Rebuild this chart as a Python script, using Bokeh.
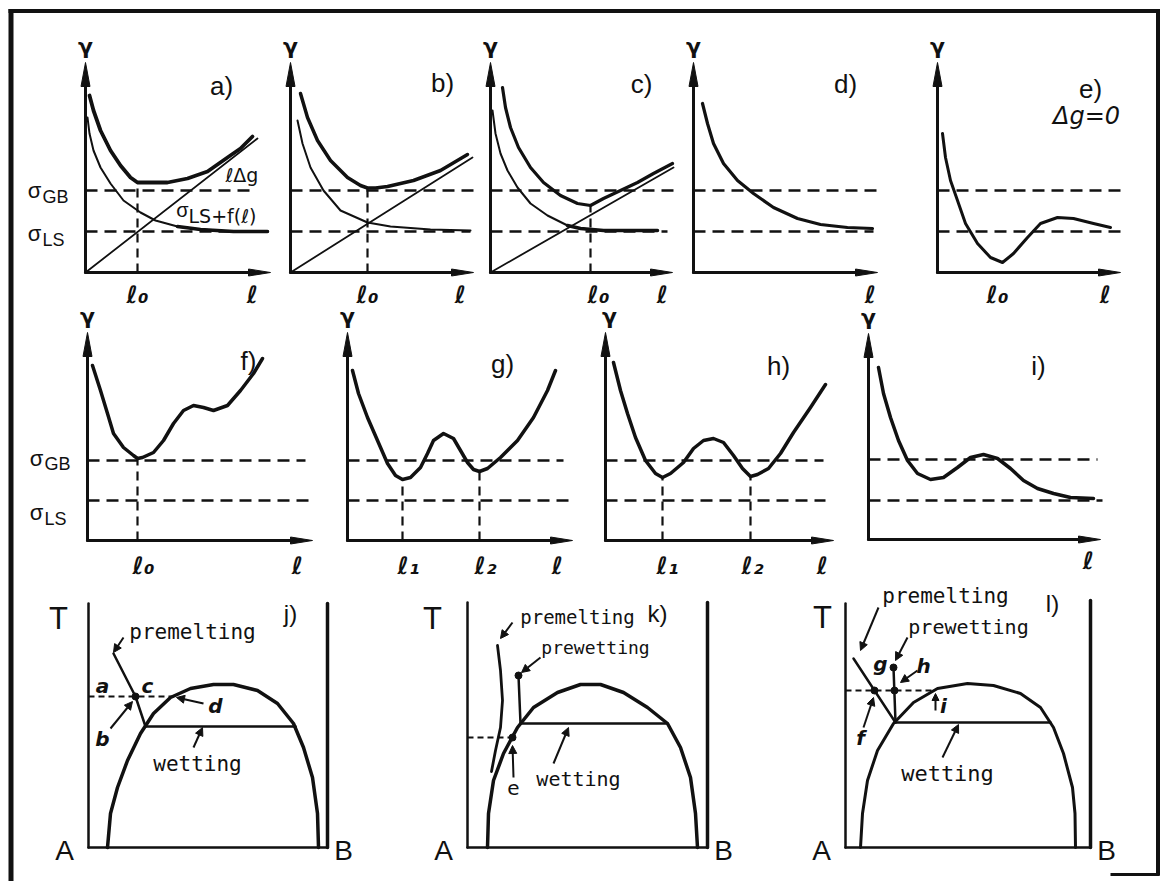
import numpy as np
from bokeh.plotting import figure
from bokeh.models import Range1d, Arrow, NormalHead
from bokeh.core.properties import value
from bokeh.embed import file_html
from bokeh.resources import INLINE

# ===================== DATA =====================
# reference surface-energy levels (gamma units), top and middle rows
SIG_GB_1, SIG_LS_1 = 8.2, 4.1
SIG_GB_2, SIG_LS_2 = 8.0, 4.0

# a)  upper curve (total), lower curve sigma_LS + f(l), straight line l*dg
A_UP_L = [0.4, 0.8, 1.5, 2.5, 3.5, 4.5, 5.2, 6.2, 8.2, 10.2, 12.2, 14.2, 15.5, 16.7]
A_UP_G = [17.7, 16.2, 14.2, 12.2, 10.7, 9.5, 9.0, 9.0, 9.0, 9.4, 10.1, 11.5, 12.4, 13.6]
A_LO_L = [0.2, 0.4, 0.8, 1.5, 2.5, 3.8, 5.5, 7.0, 9.2, 11.5, 14.8, 18.2]
A_LO_G = [15.5, 13.9, 12.2, 10.5, 8.9, 7.2, 6.0, 5.2, 4.6, 4.3, 4.1, 4.1]
A_LINE_L, A_LINE_G = [0.0, 17.2], [0.0, 13.4]
A_L0 = 5.2

# b)
B_UP_L = [1.0, 1.7, 2.7, 4.0, 5.7, 7.0, 7.7, 8.5, 9.7, 12.3, 15.0, 17.7]
B_UP_G = [17.9, 15.5, 13.2, 11.2, 9.5, 8.7, 8.45, 8.45, 8.6, 9.2, 10.2, 11.8]
B_LO_L = [0.7, 1.2, 2.0, 3.3, 5.0, 7.7, 10.0, 14.0, 18.0]
B_LO_G = [15.2, 12.9, 10.5, 8.2, 6.2, 5.0, 4.6, 4.3, 4.2]
B_LINE_L, B_LINE_G = [0.0, 18.2], [0.0, 11.5]
B_L0 = 7.7

# c)
C_UP_L = [1.2, 1.5, 2.0, 2.8, 4.0, 5.3, 7.0, 8.7, 10.0, 11.3, 13.0, 14.7, 16.3, 18.2]
C_UP_G = [18.5, 16.5, 14.5, 12.5, 10.5, 9.0, 7.7, 6.9, 6.7, 7.4, 8.2, 9.0, 9.9, 10.9]
C_LO_L = [0.2, 0.5, 1.0, 1.7, 2.7, 4.0, 5.7, 7.7, 9.0, 11.3, 16.7]
C_LO_G = [16.2, 13.9, 11.9, 10.2, 8.5, 6.9, 5.7, 4.7, 4.4, 4.2, 4.2]
C_LINE_L, C_LINE_G = [0.0, 18.3], [0.0, 10.5]
C_L0 = 10.0

# d)
D_L = [0.9, 1.4, 2.0, 3.0, 4.4, 6.0, 8.0, 10.4, 12.7, 15.4, 17.9]
D_G = [16.9, 14.9, 12.9, 10.9, 9.2, 7.9, 6.5, 5.4, 4.8, 4.5, 4.4]

# e)  (delta g = 0)
E_L = [0.5, 0.8, 1.3, 2.0, 2.8, 4.0, 5.3, 6.5, 7.6, 9.0, 10.3, 12.0, 13.6, 15.6, 17.3]
E_G = [13.9, 11.5, 9.2, 7.2, 4.9, 2.9, 1.5, 1.0, 1.9, 3.5, 4.9, 5.5, 5.4, 4.9, 4.5]

# f)
F_L = [0.5, 1.3, 2.0, 2.6, 3.6, 4.6, 5.0, 5.5, 6.6, 7.6, 8.6, 9.6, 10.6, 11.6, 12.6, 14.0, 15.3, 16.6, 17.5]
F_G = [17.5, 15.0, 12.7, 10.7, 9.3, 8.5, 8.2, 8.3, 8.8, 10.0, 11.7, 13.0, 13.5, 13.3, 13.0, 13.5, 15.0, 16.7, 18.2]
F_L0 = 5.0

# g)
G_L = [0.5, 1.1, 2.0, 3.0, 4.0, 4.8, 5.5, 6.3, 7.3, 8.0, 8.6, 9.6, 10.6, 11.3, 12.0, 12.6, 13.2, 14.0, 15.3, 17.0, 18.6, 20.0, 20.8]
G_G = [17.0, 14.7, 12.3, 10.0, 7.7, 6.5, 6.1, 6.3, 7.3, 8.7, 10.0, 10.7, 10.2, 9.0, 7.8, 7.1, 6.9, 7.2, 8.3, 10.0, 12.3, 15.0, 17.0]
G_L1, G_L2 = 5.5, 13.2

# h)
H_L = [0.8, 1.5, 2.2, 3.0, 4.0, 5.0, 5.7, 6.5, 7.8, 8.8, 9.8, 10.8, 11.8, 12.8, 13.7, 14.5, 15.2, 16.3, 17.5, 18.8, 20.5, 22.0]
H_G = [17.8, 15.0, 12.7, 10.3, 8.0, 6.7, 6.3, 6.7, 7.8, 9.2, 10.0, 10.2, 9.8, 8.5, 7.2, 6.4, 6.6, 7.2, 8.7, 10.8, 13.3, 15.6]
H_L1, H_L2 = 5.7, 14.5

# i)
I_L = [1.0, 1.5, 2.2, 3.0, 3.9, 4.9, 6.2, 7.5, 8.9, 10.2, 11.5, 12.9, 14.2, 15.5, 16.9, 18.5, 20.2, 22.5]
I_G = [17.2, 14.6, 12.2, 9.9, 7.9, 6.6, 6.0, 6.2, 7.2, 8.2, 8.5, 8.1, 7.1, 5.9, 5.1, 4.6, 4.2, 4.1]

# j)  phase diagram: miscibility dome, three-phase line, premelting line
J_DOME_X = [1.9, 2.2, 2.9, 3.9, 5.2, 6.5, 8.2, 10.2, 12.5, 14.5, 16.9, 18.9, 20.5, 21.5, 22.4, 22.9, 23.0]
J_DOME_T = [0.0, 3.4, 6.0, 8.7, 11.4, 13.4, 15.0, 15.9, 16.3, 16.3, 15.7, 14.4, 12.4, 10.0, 7.0, 3.4, 0.0]
J_THREE_X, J_THREE_T = [5.7, 20.7], 12.1
J_DASH_X, J_DASH_T = [0.0, 8.5], 15.1
J_PREMELT_X, J_PREMELT_T = [2.5, 4.7, 5.7], [19.4, 15.1, 12.1]
J_DOT_X, J_DOT_T = [4.7], [15.1]

# k)
K_DOME_X = [2.0, 2.1, 2.6, 3.6, 5.0, 6.6, 9.0, 11.3, 13.3, 15.6, 18.0, 20.0, 21.3, 22.3, 22.8, 23.0]
K_DOME_T = [0.0, 3.4, 6.7, 9.4, 12.0, 14.0, 15.5, 16.3, 16.3, 15.5, 14.0, 12.4, 10.0, 7.0, 3.4, 0.0]
K_THREE_X, K_THREE_T = [5.3, 20.0], 12.4
K_DASH_X, K_DASH_T = [0.0, 4.5], 11.0
K_PREMELT_X = [3.0, 3.3, 3.5, 3.3, 2.8, 2.4]
K_PREMELT_T = [20.2, 17.7, 14.7, 12.0, 9.7, 7.6]
K_PREWET_X, K_PREWET_T = [5.1, 5.3], [17.2, 12.4]
K_DOT_X, K_DOT_T = [5.1, 4.5], [17.2, 11.0]

# l)
L_DOME_X = [1.5, 1.7, 2.2, 3.2, 4.8, 6.8, 9.2, 12.2, 14.8, 17.5, 19.5, 20.8, 21.8, 22.7, 22.95, 23.0]
L_DOME_T = [0.0, 3.4, 6.7, 9.7, 12.4, 14.5, 15.9, 16.4, 16.2, 15.4, 14.0, 12.0, 9.4, 6.0, 3.4, 0.0]
L_THREE_X, L_THREE_T = [4.9, 20.5], 12.5
L_DASH_X, L_DASH_T = [0.0, 8.9], 15.7
L_PREMELT_X, L_PREMELT_T = [0.8, 5.0], [18.9, 12.5]
L_PREWET_X, L_PREWET_T = [4.8, 5.0], [18.0, 12.5]
L_DOT_X, L_DOT_T = [4.8, 2.9, 4.9], [18.0, 15.7, 15.7]

# ===================== LAYOUT =====================
FIG_W, FIG_H = 1165, 881
PX0, PY0 = 0, 0
UNIT = 10.0   # page pixels per diagram unit
ORIGINS = {"a": (85, 272), "b": (290, 272), "c": (490, 272), "d": (693, 272), "e": (937, 272),
           "f": (87, 540), "g": (347, 540), "h": (605, 540), "i": (868, 539),
           "j": (88, 847), "k": (467, 847), "l": (845, 847)}

p = figure(width=FIG_W, height=FIG_H,
           x_range=Range1d(PX0, PX0 + FIG_W), y_range=Range1d(PY0 + FIG_H, PY0),
           output_backend="svg", toolbar_location=None, min_border=0,
           x_axis_location=None, y_axis_location=None)
p.outline_line_color = None
p.background_fill_color = "white"
p.border_fill_color = "white"
p.grid.visible = False

xr, yr = {}, {}
for nm, (ox, oy) in ORIGINS.items():
    xr[nm] = Range1d((PX0 - ox) / UNIT, (PX0 + FIG_W - ox) / UNIT)
    yr[nm] = Range1d((oy - (PY0 + FIG_H)) / UNIT, (oy - PY0) / UNIT)
p.extra_x_ranges = xr
p.extra_y_ranges = yr

BLACK = "#111111"
DASH = "12 7"


def ln(nm, x, y, w=2.0, dash="solid", cap="round"):
    p.line(x, y, x_range_name=nm, y_range_name=nm, line_width=w, line_color=BLACK,
           line_dash=dash, line_join="round", line_cap=cap)


def txt(nm, x, y, s, size, font="Liberation Sans", style="normal", align="center", baseline="middle"):
    p.text(x=[x], y=[y], text=[s], x_range_name=nm, y_range_name=nm,
           text_font=value(font), text_font_size=value(f"{size}px"), text_font_style=style,
           text_align=align, text_baseline=baseline, text_color=BLACK)


def arr(nm, x0, y0, x1, y1, size=8):
    p.add_layout(Arrow(end=NormalHead(size=size, fill_color=BLACK, line_color=BLACK, line_width=1),
                       x_start=x0, y_start=y0, x_end=x1, y_end=y1, line_width=2, line_color=BLACK,
                       x_range_name=nm, y_range_name=nm))


def dots(nm, x, y, size=7):
    p.scatter(x, y, size=size, color=BLACK, x_range_name=nm, y_range_name=nm)


def gamma_axes(nm, xlen, ylen, gb, ls, gb_end, ls_end):
    ln(nm, [0, 0], [0, ylen - 1.5], 3)
    ln(nm, [0, xlen - 1.5], [0, 0], 3)
    p.patch([-0.45, 0, 0.45], [ylen - 2.4, ylen, ylen - 2.4], x_range_name=nm, y_range_name=nm,
            color=BLACK)
    p.patch([xlen - 2.2, xlen, xlen - 2.2], [0.35, 0, -0.35], x_range_name=nm, y_range_name=nm,
            color=BLACK)
    ln(nm, [0, gb_end], [gb, gb], 2.5, DASH, "butt")
    ln(nm, [0, ls_end], [ls, ls], 2.5, DASH, "butt")
    txt(nm, 0 if nm != "h" else 0.4, ylen + 1.6, "γ", 22, "DejaVu Sans", "bold")


def vdash(nm, x, top):
    ln(nm, [x, x], [0, top], 2.2, "9 6", "butt")


def sigma_label(nm, gy, sub, dy=0.6):
    txt(nm, -5.1, gy, "σ", 22)
    txt(nm, -4.3, gy - dy, sub, 18, align="left")


LFONT = "DejaVu Sans"

# ---------------- top row ----------------
gamma_axes("a", 18.5, 21.0, SIG_GB_1, SIG_LS_1, 16.8, 18.5)
ln("a", A_LINE_L, A_LINE_G, 1.8)
ln("a", A_LO_L, A_LO_G, 2.0)
lo = np.array(A_LO_L) >= 9.0
ln("a", np.array(A_LO_L)[lo], np.array(A_LO_G)[lo], 3.5)
ln("a", A_UP_L, A_UP_G, 3.8)
vdash("a", A_L0, 9.0)
txt("a", 13.6, 18.7, "a)", 26)
sigma_label("a", SIG_GB_1, "GB")
sigma_label("a", SIG_LS_1 - 0.2, "LS")
txt("a", 9.7, 6.3, "σ", 20)
txt("a", 10.3, 5.7, "LS+f(ℓ)", 19, LFONT, align="left")
txt("a", 14.0, 9.8, "ℓΔg", 19, LFONT, align="left")
txt("a", A_L0, -2.2, "ℓ₀", 24, LFONT, "bold italic")
txt("a", 16.7, -2.2, "ℓ", 24, LFONT, "bold italic")

gamma_axes("b", 18.3, 21.0, SIG_GB_1, SIG_LS_1, 19.0, 18.0)
ln("b", B_LINE_L, B_LINE_G, 1.8)
ln("b", B_LO_L, B_LO_G, 2.0)
ln("b", B_UP_L, B_UP_G, 3.5)
vdash("b", B_L0, 8.45)
txt("b", 15.2, 19.0, "b)", 26)
txt("b", B_L0, -2.2, "ℓ₀", 24, LFONT, "bold italic")
txt("b", 17.0, -2.2, "ℓ", 24, LFONT, "bold italic")

gamma_axes("c", 18.2, 21.0, SIG_GB_1, SIG_LS_1, 19.0, 17.7)
ln("c", C_LINE_L, C_LINE_G, 1.8)
ln("c", C_LO_L, C_LO_G, 2.0)
lo = np.array(C_LO_L) >= 7.5
ln("c", np.array(C_LO_L)[lo], np.array(C_LO_G)[lo], 3.5)
ln("c", C_UP_L, C_UP_G, 3.2)
vdash("c", C_L0, 6.7)
txt("c", 15.1, 18.9, "c)", 26)
txt("c", 10.8, -2.2, "ℓ₀", 24, LFONT, "bold italic")
txt("c", 17.2, -2.2, "ℓ", 24, LFONT, "bold italic")

gamma_axes("d", 18.4, 21.0, SIG_GB_1, SIG_LS_1, 18.9, 18.0)
ln("d", D_L, D_G, 3.2)
txt("d", 15.2, 18.9, "d)", 26)
txt("d", 17.7, -2.2, "ℓ", 24, LFONT, "bold italic")

gamma_axes("e", 18.3, 21.0, SIG_GB_1, SIG_LS_1, 18.5, 18.5)
ln("e", E_L, E_G, 3.0)
txt("e", 15.3, 18.4, "e)", 26)
txt("e", 14.9, 15.7, "Δg=0", 24, LFONT, "italic")
txt("e", 6.0, -2.2, "ℓ₀", 24, LFONT, "bold italic")
txt("e", 16.8, -2.2, "ℓ", 24, LFONT, "bold italic")

# ---------------- middle row ----------------
gamma_axes("f", 22.5, 20.8, SIG_GB_2, SIG_LS_2, 21.8, 22.5)
ln("f", F_L, F_G, 3.5)
vdash("f", F_L0, 8.2)
txt("f", 16.1, 18.0, "f)", 26)
sigma_label("f", 8.2, "GB", 0.5)
sigma_label("f", 2.8, "LS", 0.6)
txt("f", 5.6, -2.5, "ℓ₀", 24, LFONT, "bold italic")
txt("f", 21.0, -2.5, "ℓ", 24, LFONT, "bold italic")

gamma_axes("g", 22.5, 20.8, SIG_GB_2, SIG_LS_2, 21.6, 22.1)
ln("g", G_L, G_G, 3.5)
vdash("g", G_L1, 6.1)
vdash("g", G_L2, 6.9)
txt("g", 15.5, 17.7, "g)", 26)
txt("g", 6.1, -2.5, "ℓ₁", 24, LFONT, "bold italic")
txt("g", 13.8, -2.5, "ℓ₂", 24, LFONT, "bold italic")
txt("g", 21.0, -2.5, "ℓ", 24, LFONT, "bold italic")

gamma_axes("h", 22.8, 20.8, SIG_GB_2, SIG_LS_2, 21.8, 22.0)
ln("h", H_L, H_G, 3.5)
vdash("h", H_L1, 6.3)
vdash("h", H_L2, 6.4)
txt("h", 17.3, 17.5, "h)", 26)
txt("h", 6.2, -2.5, "ℓ₁", 24, LFONT, "bold italic")
txt("h", 14.7, -2.5, "ℓ₂", 24, LFONT, "bold italic")
txt("h", 21.7, -2.5, "ℓ", 24, LFONT, "bold italic")

gamma_axes("i", 23.2, 20.6, SIG_GB_2, SIG_LS_2 - 0.1, 22.9, 23.4)
ln("i", I_L, I_G, 3.5)
txt("i", 17.0, 17.4, "i)", 26)
txt("i", 22.0, -2.1, "ℓ", 24, LFONT, "bold italic")

# ---------------- bottom row: phase diagrams ----------------
MONO = "DejaVu Sans Mono"


def t_box(nm, right, top_l, top_r):
    ln(nm, [0, 0], [top_l, 0], 2.5)
    ln(nm, [0, right], [0, 0], 2.5)
    ln(nm, [right, right], [0, top_r], 3.5)
    txt(nm, -2.4, -0.3, "A", 28)
    txt(nm, right + 1.6, -0.3, "B", 28)


# j)
t_box("j", 23.9, 24.4, 24.4)
ln("j", J_DOME_X, J_DOME_T, 3.5)
ln("j", J_THREE_X, [J_THREE_T] * 2, 2.5)
ln("j", J_DASH_X, [J_DASH_T] * 2, 2.2, "6 4", "butt")
ln("j", J_PREMELT_X, J_PREMELT_T, 2.5)
dots("j", J_DOT_X, J_DOT_T)
txt("j", -3.0, 22.9, "T", 31)
txt("j", 20.2, 23.4, "j)", 24)
txt("j", 10.4, 21.6, "premelting", 21, MONO)
txt("j", 10.9, 8.4, "wetting", 21, MONO)
txt("j", 1.4, 16.2, "a", 20, LFONT, "bold italic")
txt("j", 5.9, 16.2, "c", 20, LFONT, "bold italic")
txt("j", 12.7, 14.2, "d", 20, LFONT, "bold italic")
txt("j", 1.4, 10.9, "b", 20, LFONT, "bold italic")
arr("j", 3.5, 21.0, 2.5, 19.5)
arr("j", 2.2, 11.9, 4.4, 14.6)
arr("j", 11.5, 14.4, 8.8, 15.0)
arr("j", 10.5, 10.0, 11.4, 12.0)

# k)
t_box("k", 24.0, 24.5, 24.5)
ln("k", K_DOME_X, K_DOME_T, 3.5)
ln("k", K_THREE_X, [K_THREE_T] * 2, 2.5)
ln("k", K_DASH_X, [K_DASH_T] * 2, 2.2, "6 4", "butt")
ln("k", K_PREMELT_X, K_PREMELT_T, 2.8)
ln("k", K_PREWET_X, K_PREWET_T, 2.5)
dots("k", K_DOT_X, K_DOT_T)
txt("k", -3.5, 22.9, "T", 31)
txt("k", 19.0, 23.4, "k)", 24)
txt("k", 11.0, 23.1, "premelting", 19, MONO)
txt("k", 12.8, 20.0, "prewetting", 18, MONO)
txt("k", 11.1, 6.9, "wetting", 20, MONO)
txt("k", 4.6, 6.0, "e", 20, LFONT)
arr("k", 4.5, 22.5, 3.3, 20.9)
arr("k", 7.3, 19.0, 5.4, 17.5)
arr("k", 8.6, 8.4, 10.1, 12.0)
arr("k", 4.6, 7.0, 4.5, 10.2)

# l)
t_box("l", 24.5, 24.4, 24.7)
ln("l", L_DOME_X, L_DOME_T, 3.0)
ln("l", L_THREE_X, [L_THREE_T] * 2, 2.5)
ln("l", L_DASH_X, [L_DASH_T] * 2, 2.2, "6 4", "butt")
ln("l", L_PREMELT_X, L_PREMELT_T, 2.5)
ln("l", L_PREWET_X, L_PREWET_T, 2.5)
dots("l", L_DOT_X, L_DOT_T)
txt("l", -2.3, 23.0, "T", 31)
txt("l", 20.7, 24.4, "l)", 24)
txt("l", 10.0, 25.2, "premelting", 21, MONO)
txt("l", 12.3, 22.1, "prewetting", 20, MONO)
txt("l", 10.2, 7.4, "wetting", 22, MONO)
txt("l", 3.5, 18.4, "g", 20, LFONT, "bold italic")
txt("l", 7.8, 18.2, "h", 20, LFONT, "bold italic")
txt("l", 1.5, 11.0, "f", 20, LFONT, "bold italic")
txt("l", 9.8, 14.2, "i", 20, LFONT, "bold italic")
arr("l", 3.3, 24.0, 1.5, 19.7)
arr("l", 6.2, 21.0, 5.0, 18.7)
arr("l", 7.2, 17.7, 5.5, 16.5)
arr("l", 1.8, 12.0, 2.8, 15.0)
arr("l", 9.0, 13.7, 9.0, 15.4, 7)
arr("l", 9.7, 9.0, 11.3, 12.3)

# ---------------- outer frame (page coordinates) ----------------
p.line([10.5, 10.5], [8.5, PY0 + FIG_H], line_width=5, line_color=BLACK)
p.line([8.0, 1159.5], [10.5, 10.5], line_width=4, line_color=BLACK)
p.line([1157.5, 1157.5], [8.5, 875], line_width=4, line_color=BLACK)
p.line([1110, 1159], [874, 874], line_width=3, line_color=BLACK)

open("out.html", "w").write(file_html(p, INLINE))
